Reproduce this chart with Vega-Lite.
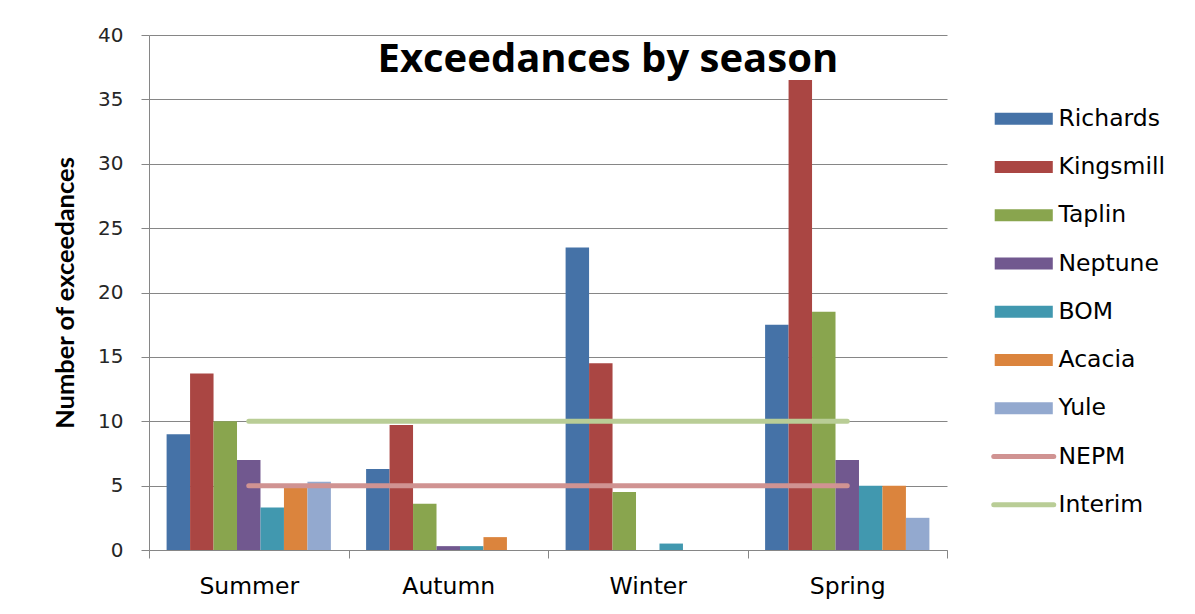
{
  "$schema": "https://vega.github.io/schema/vega-lite/v6.json",
  "width": 798,
  "height": 515,
  "autosize": {"type": "none"},
  "padding": {"left": 149, "top": 35, "right": 248, "bottom": 64},
  "background": "white",
  "config": {"font": "DejaVu Sans", "view": {"stroke": null}},
  "datasets": {
    "bars": [
      {"season": "Summer", "series": "Richards", "value": 9.0},
      {"season": "Summer", "series": "Kingsmill", "value": 13.7},
      {"season": "Summer", "series": "Taplin", "value": 10.0},
      {"season": "Summer", "series": "Neptune", "value": 7.0},
      {"season": "Summer", "series": "BOM", "value": 3.3},
      {"season": "Summer", "series": "Acacia", "value": 5.0},
      {"season": "Summer", "series": "Yule", "value": 5.3},
      {"season": "Autumn", "series": "Richards", "value": 6.3},
      {"season": "Autumn", "series": "Kingsmill", "value": 9.7},
      {"season": "Autumn", "series": "Taplin", "value": 3.6},
      {"season": "Autumn", "series": "Neptune", "value": 0.3},
      {"season": "Autumn", "series": "BOM", "value": 0.3},
      {"season": "Autumn", "series": "Acacia", "value": 1.0},
      {"season": "Autumn", "series": "Yule", "value": 0},
      {"season": "Winter", "series": "Richards", "value": 23.5},
      {"season": "Winter", "series": "Kingsmill", "value": 14.5},
      {"season": "Winter", "series": "Taplin", "value": 4.5},
      {"season": "Winter", "series": "Neptune", "value": 0},
      {"season": "Winter", "series": "BOM", "value": 0.5},
      {"season": "Winter", "series": "Acacia", "value": 0},
      {"season": "Winter", "series": "Yule", "value": 0},
      {"season": "Spring", "series": "Richards", "value": 17.5},
      {"season": "Spring", "series": "Kingsmill", "value": 36.5},
      {"season": "Spring", "series": "Taplin", "value": 18.5},
      {"season": "Spring", "series": "Neptune", "value": 7.0},
      {"season": "Spring", "series": "BOM", "value": 5.0},
      {"season": "Spring", "series": "Acacia", "value": 5.0},
      {"season": "Spring", "series": "Yule", "value": 2.5}
    ],
    "lines": [
      {"season": "Summer", "series": "NEPM", "value": 5},
      {"season": "Autumn", "series": "NEPM", "value": 5},
      {"season": "Winter", "series": "NEPM", "value": 5},
      {"season": "Spring", "series": "NEPM", "value": 5},
      {"season": "Summer", "series": "Interim", "value": 10},
      {"season": "Autumn", "series": "Interim", "value": 10},
      {"season": "Winter", "series": "Interim", "value": 10},
      {"season": "Spring", "series": "Interim", "value": 10}
    ],
    "heading": [
      {"label": "Exceedances by season", "season": "Winter", "value": 37.13}
    ]
  },
  "encoding": {
    "x": {
      "field": "season",
      "type": "nominal",
      "sort": ["Summer", "Autumn", "Winter", "Spring"],
      "scale": {"paddingInner": 0, "paddingOuter": 0},
      "axis": {
        "title": null,
        "labelAngle": 0,
        "tickBand": "extent",
        "tickSize": 8,
        "tickColor": "#868686",
        "domainColor": "#868686",
        "labelFont": "DejaVu Sans",
        "labelFontSize": 23.5,
        "labelColor": "#000000",
        "labelPadding": 16,
        "grid": false
      }
    },
    "y": {
      "field": "value",
      "type": "quantitative",
      "scale": {"domain": [0, 40], "nice": false},
      "axis": {
        "title": "Number of exceedances",
        "titleFont": "Lato",
        "titleFontSize": 25.5,
        "titleFontWeight": "bold",
        "titleColor": "#000000",
        "titlePadding": 19,
        "values": [0, 5, 10, 15, 20, 25, 30, 35, 40],
        "labelFont": "DejaVu Sans",
        "labelFontSize": 20,
        "labelColor": "#262626",
        "labelPadding": 18,
        "tickSize": 8,
        "tickColor": "#868686",
        "domainColor": "#868686",
        "grid": true,
        "gridColor": "#868686"
      }
    },
    "color": {
      "field": "series",
      "type": "nominal",
      "scale": {
        "domain": ["Richards", "Kingsmill", "Taplin", "Neptune", "BOM", "Acacia", "Yule", "NEPM", "Interim"],
        "range": ["#4572A7", "#AA4643", "#89A54E", "#71588F", "#4198AF", "#DB843D", "#93A9CF", "#D09392", "#B9CD96"]
      },
      "legend": {
        "orient": "none",
        "legendX": 846,
        "legendY": 72,
        "title": null,
        "symbolSize": 576,
        "symbolOffset": 17,
        "labelOffset": 23,
        "rowPadding": 23.25,
        "labelFont": "DejaVu Sans",
        "labelFontSize": 23.5,
        "labelColor": "#000000",
        "labelBaseline": "middle",
        "encode": {
          "symbols": {
            "update": {
              "shape": {"signal": "(datum.value === 'NEPM' || datum.value === 'Interim') ? 'M-2.5,0H2.5' : 'M-2.42,-0.5H2.42V0.5H-2.42Z'"},
              "fill": {"signal": "(datum.value === 'NEPM' || datum.value === 'Interim') ? 'transparent' : scale('color', datum.value)"},
              "stroke": {"signal": "(datum.value === 'NEPM' || datum.value === 'Interim') ? scale('color', datum.value) : 'transparent'"},
              "strokeWidth": {"signal": "(datum.value === 'NEPM' || datum.value === 'Interim') ? 5 : 0"},
              "strokeCap": {"value": "round"},
              "opacity": {"value": 1}
            }
          }
        }
      }
    }
  },
  "layer": [
    {
      "data": {"name": "bars"},
      "mark": {"type": "bar"},
      "encoding": {
        "xOffset": {
          "field": "series",
          "type": "nominal",
          "sort": ["Richards", "Kingsmill", "Taplin", "Neptune", "BOM", "Acacia", "Yule"],
          "scale": {"paddingInner": 0, "paddingOuter": 0.75}
        }
      }
    },
    {
      "data": {"name": "lines"},
      "mark": {"type": "line", "strokeWidth": 5, "strokeCap": "round"},
      "encoding": {}
    },
    {
      "data": {"name": "heading"},
      "mark": {"type": "text", "font": "Open Sans", "fontSize": 40, "fontWeight": "bold", "align": "center", "baseline": "alphabetic"},
      "encoding": {
        "x": {"field": "season", "type": "nominal", "bandPosition": 0.3},
        "text": {"field": "label"},
        "color": {"value": "#000000"}
      }
    }
  ]
}
